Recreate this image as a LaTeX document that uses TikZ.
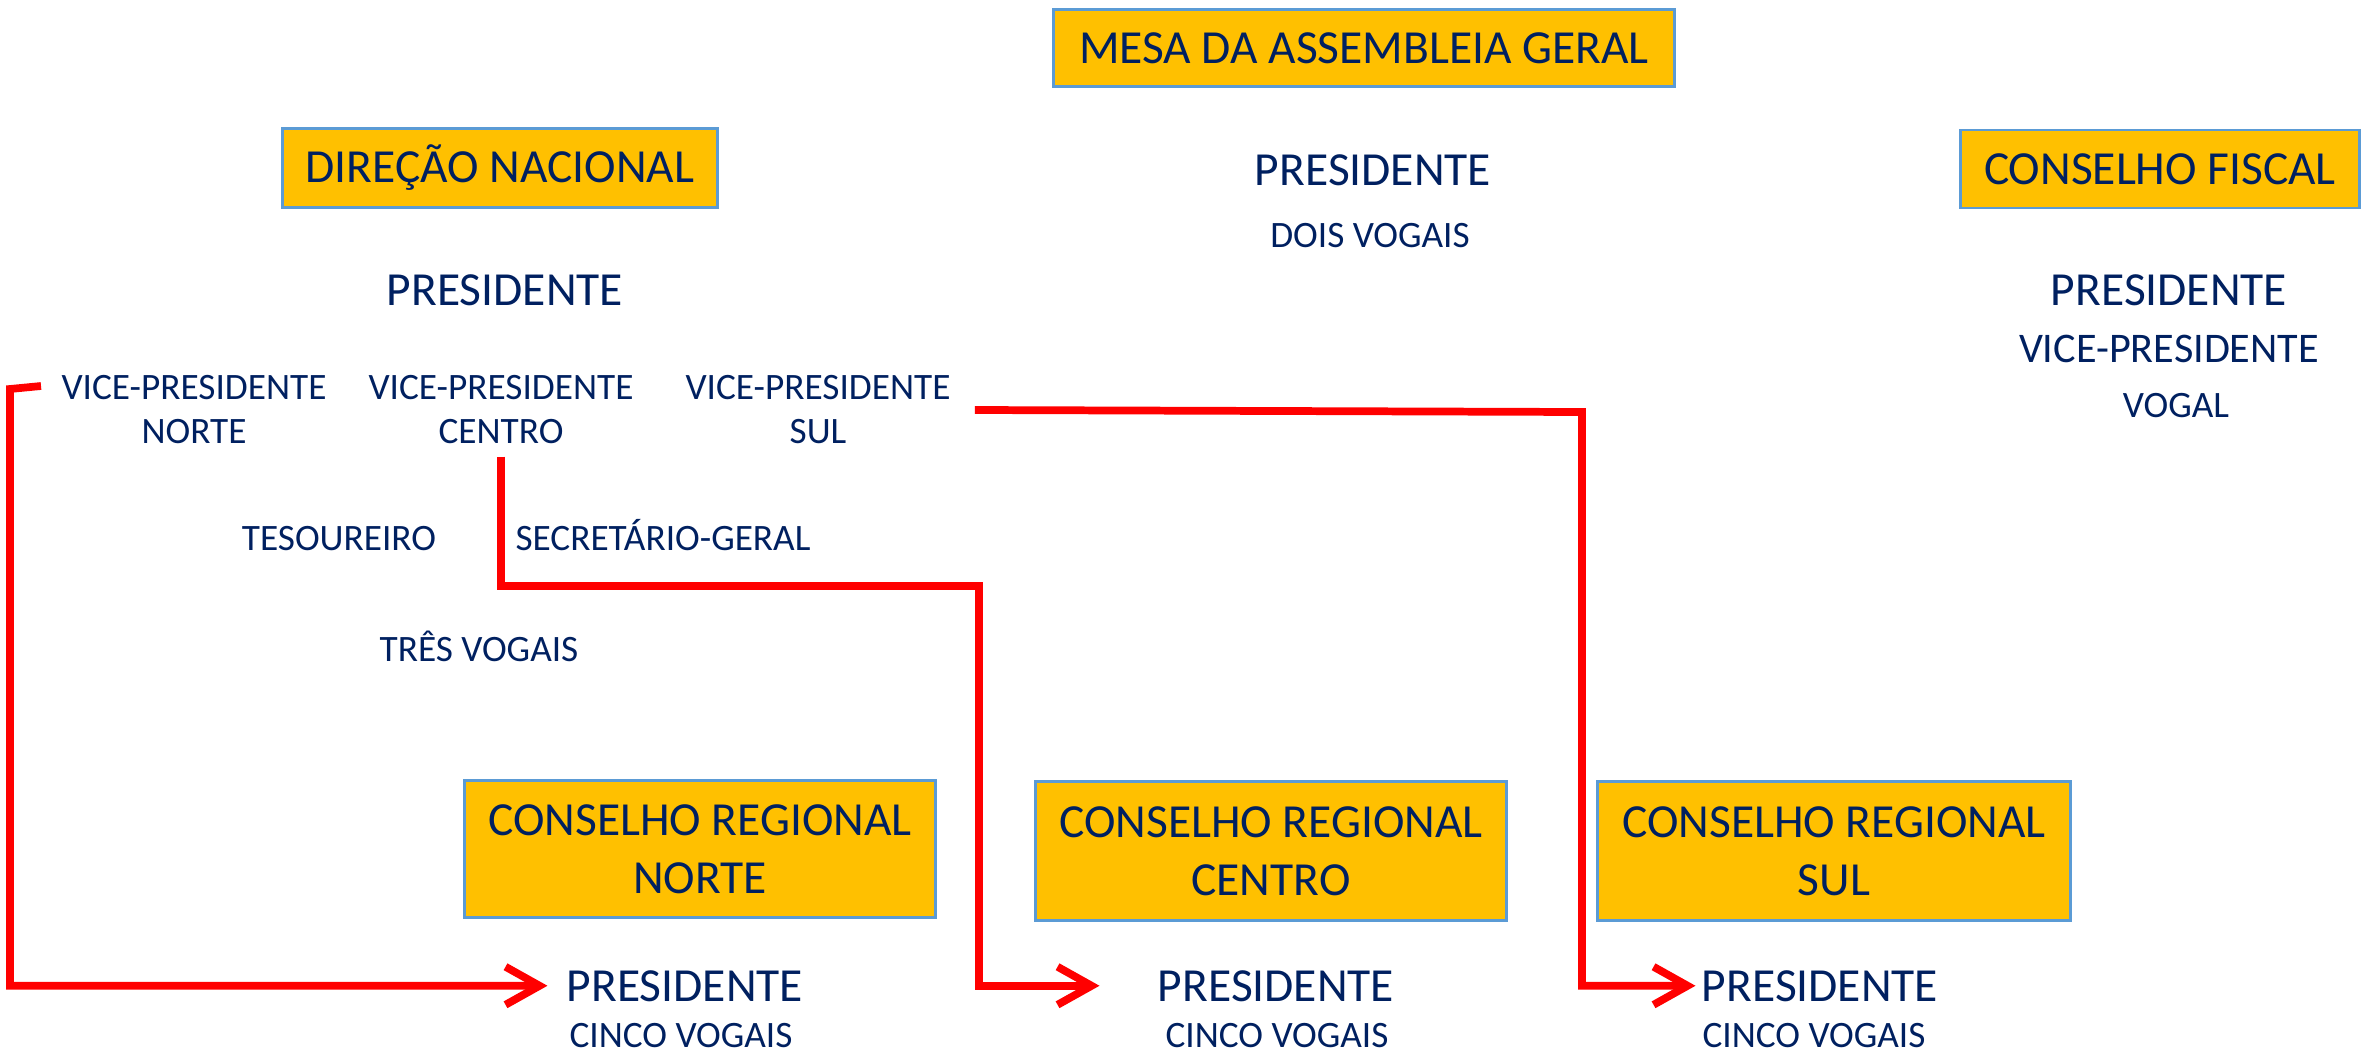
\documentclass[tikz,border=0pt]{standalone}
\usepackage{fontspec}
\setmainfont{Carlito}
\usetikzlibrary{arrows.meta,calc}
\definecolor{navy}{HTML}{002060}
\definecolor{gold}{HTML}{FFC000}
\definecolor{rim}{HTML}{5B9BD5}
\newcommand{\lrg}{\fontsize{13.5pt}{16.4pt}\selectfont}
\newcommand{\med}{\fontsize{10.6pt}{12.5pt}\selectfont}
\newcommand{\midsz}{\fontsize{12pt}{14pt}\selectfont}

\begin{document}
\begin{tikzpicture}[x=0.01cm,y=-0.01cm]
    \tikzstyle{box}=[draw=rim,line width=0.8pt,fill=gold,text=navy,font=\lrg,align=center,inner sep=0pt]
    \tikzstyle{big}=[text=navy,font=\lrg,anchor=base]
    \tikzstyle{small}=[text=navy,font=\med,anchor=base]
    \tikzstyle{two}=[text=navy,font=\med,align=center]
    \tikzstyle{link}=[red,line width=2.2pt,-{Straight Barb[length=3.4mm,width=3.8mm]}]
    \useasboundingbox (0,0) rectangle (2369,1054);

    \node (mesa)[box,minimum width=6.2cm,minimum height=0.77cm] at (1364,48) {MESA DA ASSEMBLEIA GERAL};
    \node (dn)[box,minimum width=4.34cm,minimum height=0.79cm] at (500,168) {DIREÇÃO NACIONAL};
    \node (cf)[box,minimum width=3.99cm,minimum height=0.78cm] at (2160,169) {CONSELHO FISCAL};
    \node (crn)[box,minimum width=4.71cm,minimum height=1.37cm] at (700,849) {CONSELHO REGIONAL\\NORTE};
    \node (crc)[box,minimum width=4.71cm,minimum height=1.39cm] at (1271,851) {CONSELHO REGIONAL\\CENTRO};
    \node (crs)[box,minimum width=4.72cm,minimum height=1.39cm] at (1834,851) {CONSELHO REGIONAL\\SUL};

    \node (mp)[big] at (1373,185) {PRESIDENTE};
    \node (mv)[small] at (1370,247) {DOIS VOGAIS};

    \node (dp)[big] at (505,305) {PRESIDENTE};
    \node (vpn)[two] at (194,410) {VICE-PRESIDENTE\\NORTE};
    \node (vpc)[two] at (501,410) {VICE-PRESIDENTE\\CENTRO};
    \node (vps)[two] at (818,410) {VICE-PRESIDENTE\\SUL};
    \node (tes)[small] at (339,550) {TESOUREIRO};
    \node (sec)[small] at (663,550) {SECRETÁRIO-GERAL};
    \node (tv)[small] at (479,661) {TRÊS VOGAIS};

    \node (fp)[big] at (2169,305) {PRESIDENTE};
    \node (fv)[small,font=\midsz] at (2169,362) {VICE-PRESIDENTE};
    \node (fg)[small] at (2176,417) {VOGAL};

    \node (pn)[big] at (685,1001) {PRESIDENTE};
    \node (cn)[small] at (681,1047) {CINCO VOGAIS};
    \node (pc)[big] at (1276,1001) {PRESIDENTE};
    \node (cc)[small] at (1277,1047) {CINCO VOGAIS};
    \node (ps)[big] at (1820,1001) {PRESIDENTE};
    \node (cs)[small] at (1814,1047) {CINCO VOGAIS};

    \coordinate (nl) at (41,386);
    \coordinate (cb) at (979,586);
    \coordinate (sb) at (1582,412);

    \draw[link] (nl) -- ++(-31,3) |- ([xshift=-2pt]pn.west);
    \draw[link] (vpc.south) |- (cb) |- ($(pc.west)+(-46,0)$);
    \draw[link] ($(vps.east)+(12,0)$) -- (sb) |- ($(ps.west)+(6,0)$);
\end{tikzpicture}
\end{document}
